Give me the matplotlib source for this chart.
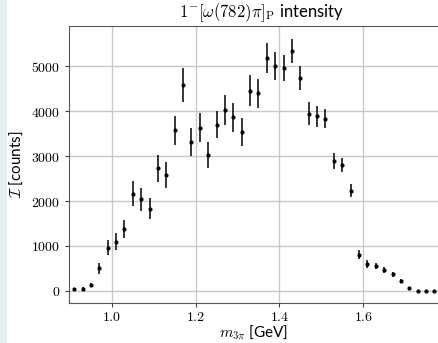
import matplotlib
matplotlib.use("Agg")
import matplotlib.pyplot as plt
from matplotlib.ticker import FuncFormatter

plt.rcParams['mathtext.fontset'] = 'cm'
plt.rcParams['font.family'] = ['Lato', 'DejaVu Sans']

# m_3pi bin centres [GeV]
mass = [0.91, 0.93, 0.95, 0.97, 0.99, 1.01, 1.03, 1.05, 1.07, 1.09,
        1.11, 1.13, 1.15, 1.17, 1.19, 1.21, 1.23, 1.25, 1.27, 1.29,
        1.31, 1.33, 1.35, 1.37, 1.39, 1.41, 1.43, 1.45, 1.47, 1.49,
        1.51, 1.53, 1.55, 1.57, 1.59, 1.61, 1.63, 1.65, 1.67, 1.69,
        1.71, 1.73, 1.75, 1.77]
intensity = [40, 55, 125, 505, 965, 1095, 1385, 2165, 2035, 1830,
             2725, 2585, 3570, 4575, 3310, 3630, 3030, 3700, 4030, 3865,
             3530, 4455, 4395, 5175, 5010, 4965, 5335, 4735, 3945, 3880,
             3830, 2895, 2800, 2230, 800, 600, 555, 465, 370, 220,
             60, 10, 5, 5]
errors = [25, 30, 45, 125, 170, 185, 200, 285, 265, 240,
          300, 290, 325, 375, 315, 325, 290, 310, 330, 320,
          305, 335, 325, 330, 310, 290, 275, 260, 250, 230,
          205, 175, 160, 140, 100, 80, 75, 65, 60, 45,
          25, 15, 10, 10]

fig = plt.figure(figsize=(4.38, 3.43), dpi=100)
fig.patches.append(plt.Rectangle((0, 0), 6 / 438, 1, transform=fig.transFigure,
                                 color='#e8eff1', zorder=0))
ax = fig.add_axes([69 / 438, 40 / 343, 1 - 69 / 438, 277 / 343])

ax.errorbar(mass, intensity, yerr=errors, fmt='.', color='black',
            markersize=4, elinewidth=1.1, capsize=0, zorder=3)

ax.set_xlim(0.8976, 1.7786)
ax.set_ylim(-267, 5890)
ax.set_xticks([1.0, 1.2, 1.4, 1.6])
ax.set_yticks([0, 1000, 2000, 3000, 4000, 5000])
ax.xaxis.set_major_formatter(FuncFormatter(lambda v, p: f'${v:.1f}$'))
ax.yaxis.set_major_formatter(FuncFormatter(lambda v, p: f'${v:.0f}$'))
ax.tick_params(labelsize=10, color='#444444', length=3)
ax.tick_params(axis='x', pad=2)
ax.grid(True, color='#c8c8c8', linewidth=1.0, zorder=0)
ax.set_axisbelow(True)
ax.spines['right'].set_visible(False)
for s in ['left', 'bottom', 'top']:
    ax.spines[s].set_color('#555555')

ax.set_xlabel(r'$m_{3\pi}$ [GeV]', fontsize=11, labelpad=0)
ax.set_ylabel(r'$\mathcal{I}$ [counts]', fontsize=11, labelpad=4)
fig.text(262 / 438, 1 - 13 / 343, r'$1^{-}[\omega(782)\pi]_{\mathrm{P}}$ intensity',
         ha='center', va='center', fontsize=12)

fig.savefig('out.png', dpi=100)
